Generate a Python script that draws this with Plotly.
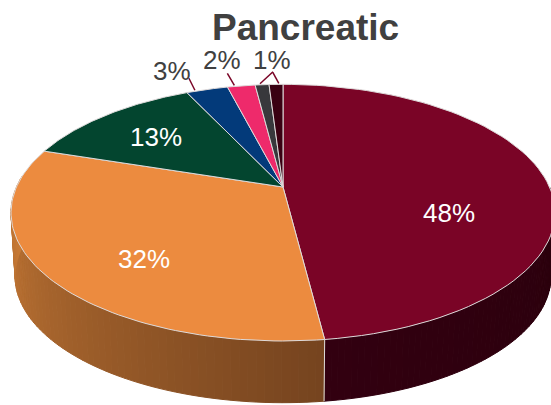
import numpy as np
import plotly.graph_objects as go

title = "Pancreatic"
labels = ["48%", "32%", "13%", "3%", "2%", "1%", "1%"]
values = [48, 32, 13, 3, 2, 1, 1]
colors = ["#7A0426", "#EC8B3F", "#03452F", "#033A7A", "#EE2A6B", "#38383C", "#3A0012"]

# pie drawn in page pixels, tilted disc seen in perspective
APEX_X, APEX_Y = 283, 187
RX, RY, PERSP = 266.5, 123.2, 0.2
DEPTH, BASE_SCALE = 64, 0.985
EDGE = "#DEDADA"
TEXT = "#404040"


def rim(deg, scale=1.0, drop=0.0):
    # deg runs clockwise from 12 o'clock
    t = np.radians(deg)
    d = 1 + PERSP * np.cos(t)
    return (APEX_X + scale * RX * np.sin(t) / d,
            APEX_Y + drop - scale * RY * np.cos(t) / d)


def mix(a, b, f):
    ca = [int(a[i:i + 2], 16) for i in (1, 3, 5)]
    cb = [int(b[i:i + 2], 16) for i in (1, 3, 5)]
    return "rgb(%d,%d,%d)" % tuple(round(x + (y - x) * f) for x, y in zip(ca, cb))


cum = np.cumsum([0] + values) / sum(values) * 360
fig = go.Figure()


def poly(xs, ys, fill, line, width):
    fig.add_trace(go.Scatter(x=xs, y=ys, mode="lines", fill="toself", fillcolor=fill,
                             line=dict(color=line, width=width), hoverinfo="skip"))


# side wall: only the front part of the first two slices shows
for i, (lit, dark) in enumerate([("#2A000C", "#320010"), ("#76441F", "#CC7D37")]):
    lo = max(cum[i], 90)
    hi = min(cum[i + 1], 275)
    steps = np.linspace(lo, hi, 70)
    for a, b in zip(steps[:-1], steps[1:]):
        xa, ya = rim(a)
        xb, yb = rim(b)
        xc, yc = rim(b, BASE_SCALE, DEPTH)
        xd, yd = rim(a, BASE_SCALE, DEPTH)
        f = (a - lo) / (hi - lo)
        c = mix(lit, dark, f)
        poly([xa, xb, xc, xd, xa], [ya, yb, yc, yd, ya], c, c, 1)

# seam on the wall between the two big slices
xs0, ys0 = rim(cum[1])
xs1, ys1 = rim(cum[1], BASE_SCALE, DEPTH)
fig.add_trace(go.Scatter(x=[xs0, xs1], y=[ys0, ys1], mode="lines",
                         line=dict(color=EDGE, width=1), hoverinfo="skip"))

# top face
for i, c in enumerate(colors):
    th = np.linspace(cum[i], cum[i + 1], 80)
    x, y = rim(th)
    poly(np.r_[APEX_X, x, APEX_X], np.r_[APEX_Y, y, APEX_Y], c, EDGE, 1)

# leader lines from small slices up to their labels
# slice index: (where along the slice it starts, dx, dy)
leaders = {3: (0.2, -6, -12), 4: (0.25, -7, -12), 5: (0.35, 13, -12), 6: (0.7, -6, -11)}
for i, (frac, dx, dy) in leaders.items():
    x, y = rim(cum[i] + frac * (cum[i + 1] - cum[i]))
    fig.add_trace(go.Scatter(x=[x, x + dx], y=[y - 1, y - 1 + dy], mode="lines",
                             line=dict(color=colors[0], width=1.5), hoverinfo="skip"))

# (x, y, colour) of each label
label_pos = [(449, 213, "white"), (144, 259, "white"), (156, 137, "white"),
             (172, 71, TEXT), (222, 60, TEXT), (272, 60, TEXT)]
for txt, (x, y, col) in zip(labels, label_pos):
    fig.add_annotation(x=x, y=y, text=txt, showarrow=False,
                       font=dict(family="Liberation Sans", size=26, color=col))

fig.add_annotation(x=305, y=27, text="<b>%s</b>" % title, showarrow=False,
                   font=dict(family="Liberation Sans", size=37, color=TEXT))

fig.update_layout(
    width=551, height=405, showlegend=False,
    margin=dict(l=0, r=0, t=0, b=0),
    paper_bgcolor="white", plot_bgcolor="white",
    xaxis=dict(range=[0, 551], visible=False, fixedrange=True),
    yaxis=dict(range=[405, 0], visible=False, fixedrange=True),
)

# page has a default 8px body margin, drop it so the chart fills the window
fig.write_html("out.html", config=dict(displayModeBar=False),
               post_script="document.body.style.margin='0';document.body.style.overflow='hidden';")
